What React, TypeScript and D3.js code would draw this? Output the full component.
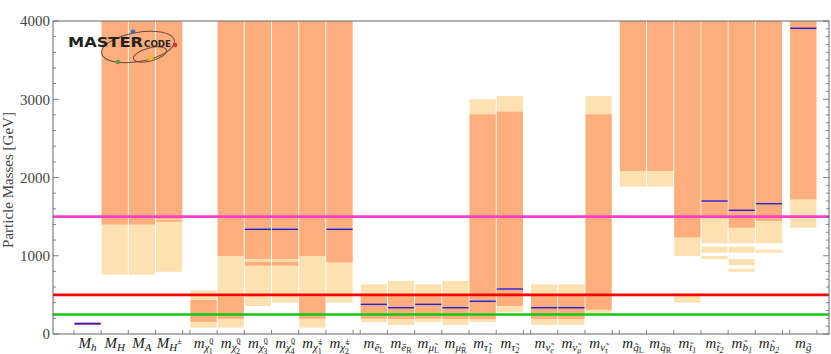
import { useEffect, useRef } from "react";
import * as d3 from "d3";

// columns (particles) and the group each one belongs to
const particles = [
  "Mh", "MH", "MA", "MHpm",
  "chi10", "chi20", "chi30", "chi40", "chi1pm", "chi2pm",
  "eL", "eR", "muL", "muR", "tau1", "tau2",
  "nue", "numu", "nutau",
  "qL", "qR", "t1", "t2", "b1", "b2",
  "gluino",
];
const groupIndex = [0, 0, 0, 0, 1, 1, 1, 1, 1, 1, 2, 2, 2, 2, 2, 2, 3, 3, 3, 4, 4, 4, 4, 4, 4, 5];

// axis labels, split into letter / subscript / superscript / sub-subscript
const labelMain = ["M", "M", "M", "M", "m", "m", "m", "m", "m", "m", "m", "m", "m", "m", "m", "m", "m", "m", "m", "m", "m", "m", "m", "m", "m", "m"];
const labelSub = [
  "h", "H", "A", "H",
  "\u03C7\u0303", "\u03C7\u0303", "\u03C7\u0303", "\u03C7\u0303", "\u03C7\u0303", "\u03C7\u0303",
  "e\u0303", "e\u0303", "\u03BC\u0303", "\u03BC\u0303", "\u03C4\u0303", "\u03C4\u0303",
  "\u03BD\u0303", "\u03BD\u0303", "\u03BD\u0303",
  "q\u0303", "q\u0303", "t\u0303", "t\u0303", "b\u0303", "b\u0303",
  "g\u0303",
];
const labelSup = ["", "", "", "\u00B1", "0", "0", "0", "0", "\u00B1", "\u00B1", "", "", "", "", "", "", "", "", "", "", "", "", "", "", "", ""];
const labelIdx = ["", "", "", "", "1", "2", "3", "4", "1", "2", "L", "R", "L", "R", "1", "2", "e", "\u03BC", "\u03C4", "L", "R", "1", "2", "1", "2", ""];

// 2 sigma ranges [GeV] (light)
const twoSigma = [
  [], [[758, 4000]], [[758, 4000]], [[795, 4000]],
  [[81, 553]], [[81, 997]], [[358, 4000]], [[400, 4000]], [[81, 997]], [[400, 4000]],
  [[153, 635]], [[115, 677]], [[153, 635]], [[115, 677]], [[153, 3000]], [[281, 3041]],
  [[115, 635]], [[115, 635]], [[264, 3041]],
  [[1883, 4000]], [[1883, 4000]], [[997, 4000], [400, 515]],
  [[1159, 4000], [1039, 1116], [958, 997]],
  [[1159, 4000], [1039, 1116], [878, 958], [796, 835]],
  [[1159, 4000], [1039, 1077]],
  [[1359, 4000]],
];

// 1 sigma ranges [GeV] (orange)
const oneSigma = [
  [], [[1400, 4000]], [[1400, 4000]], [[1470, 4000], [1435, 1458]],
  [[155, 435]], [[196, 477], [997, 4000]], [[958, 4000], [873, 924]], [[958, 4000], [873, 924]],
  [[196, 477], [997, 4000]], [[916, 4000]],
  [[196, 495]], [[192, 495]], [[196, 495]], [[192, 495]], [[188, 2807]], [[358, 2841]],
  [[192, 495]], [[192, 495]], [[311, 2807]],
  [[2083, 4000]], [[2083, 4000]], [[1236, 4000]], [[1478, 4000]], [[1359, 4000]], [[1444, 4000]],
  [[1721, 4000]],
];

// best fit points [GeV]
const bestFit = [
  132, null, null, null,
  null, null, 1338, 1338, null, 1338,
  379, 336, 379, 336, 418, 575,
  336, 336, null,
  null, null, null, 1700, 1581, 1665,
  3907,
];

const higgsBand = [118, 147];
const limitValues = [1500, 500, 250];
const limitColors = ["#ff3fc8", "#ff0000", "#10c810"];
const yTicks = [0, 1000, 2000, 3000, 4000];

const W = 831;
const H = 354;
const margin = { left: 53, right: 2, top: 21, bottom: 20 };
const gapUnits = 0.263;

const App = () => {
  const ref = useRef(null);

  useEffect(() => {
    const root = d3.select(ref.current);
    root.selectAll("*").remove();

    const svg = root
      .append("svg")
      .attr("width", W)
      .attr("height", H)
      .style("position", "absolute")
      .style("left", 0)
      .style("top", 0)
      .style("background", "#fff");

    const colU = particles.map((_, i) => i + groupIndex[i] * gapUnits);
    const x = d3.scaleLinear().domain([-0.77, 27.76]).range([margin.left, W - margin.right]);
    const y = d3.scaleLinear().domain([0, 4000]).range([H - margin.bottom, margin.top]);

    const segs = (bands) =>
      bands.flatMap((list, i) => list.map(([lo, hi]) => ({ i, lo, hi })));

    const drawBands = (bands, color) => {
      svg
        .append("g")
        .selectAll("rect")
        .data(segs(bands))
        .enter()
        .append("rect")
        .attr("x", (d) => x(colU[d.i]) + 0.5)
        .attr("width", (d) => x(colU[d.i] + 1) - x(colU[d.i]) - 1)
        .attr("y", (d) => y(d.hi))
        .attr("height", (d) => y(d.lo) - y(d.hi))
        .attr("fill", color);
    };
    drawBands(twoSigma, "#fee1b0");
    drawBands(oneSigma, "#fdae7c");

    // Higgs mass marker
    svg
      .append("rect")
      .attr("x", x(colU[0]) + 0.5)
      .attr("width", x(colU[0] + 1) - x(colU[0]) - 1)
      .attr("y", y(higgsBand[1]))
      .attr("height", y(higgsBand[0]) - y(higgsBand[1]))
      .attr("fill", "#e0404a");

    svg
      .append("g")
      .selectAll("line")
      .data(bestFit.map((v, i) => ({ v, i })).filter((d) => d.v !== null))
      .enter()
      .append("line")
      .attr("x1", (d) => x(colU[d.i]) + 0.5)
      .attr("x2", (d) => x(colU[d.i] + 1) - 0.5)
      .attr("y1", (d) => y(d.v))
      .attr("y2", (d) => y(d.v))
      .attr("stroke", "#2222dd")
      .attr("stroke-width", 1.4);

    // limit lines
    svg
      .append("g")
      .selectAll("line")
      .data(limitValues)
      .enter()
      .append("line")
      .attr("x1", margin.left)
      .attr("x2", W - margin.right)
      .attr("y1", (d) => y(d))
      .attr("y2", (d) => y(d))
      .attr("stroke", (d, i) => limitColors[i])
      .attr("stroke-width", 2.6);

    // frame
    const axisColor = "#666";
    svg
      .append("rect")
      .attr("x", margin.left)
      .attr("y", margin.top)
      .attr("width", W - margin.left - margin.right)
      .attr("height", H - margin.top - margin.bottom)
      .attr("fill", "none")
      .attr("stroke", axisColor)
      .attr("stroke-width", 1);

    const ticks = svg.append("g").attr("stroke", axisColor).attr("stroke-width", 0.8);
    d3.range(0, 4001, 200).forEach((v) => {
      const major = v % 1000 === 0;
      ticks
        .append("line")
        .attr("x1", margin.left)
        .attr("x2", margin.left + (major ? 6 : 3))
        .attr("y1", y(v))
        .attr("y2", y(v));
    });
    d3.range(0, 4001, 100).forEach((v) => {
      const major = v % 1000 === 0;
      ticks
        .append("line")
        .attr("x1", W - margin.right)
        .attr("x2", W - margin.right - (major ? 6 : 3))
        .attr("y1", y(v))
        .attr("y2", y(v));
    });
    const xTickU = Array.from(new Set(colU.flatMap((u) => [u, u + 1].map((t) => +t.toFixed(3)))));
    xTickU.forEach((u) => {
      ticks
        .append("line")
        .attr("x1", x(u))
        .attr("x2", x(u))
        .attr("y1", y(0))
        .attr("y2", y(0) - 4);
    });

    svg
      .append("g")
      .selectAll("text")
      .data(yTicks)
      .enter()
      .append("text")
      .attr("x", margin.left - 3)
      .attr("y", (d) => y(d))
      .attr("dy", "0.35em")
      .attr("text-anchor", "end")
      .attr("font-family", "Liberation Serif")
      .attr("font-size", 15)
      .attr("fill", "#444")
      .text((d) => d);

    svg
      .append("text")
      .attr("transform", "translate(13,180) rotate(-90)")
      .attr("text-anchor", "middle")
      .attr("font-family", "Liberation Serif")
      .attr("font-size", 15)
      .attr("fill", "#444")
      .text("Particle Masses [GeV]");

    // x labels
    particles.forEach((_, i) => {
      const cx = x(colU[i] + 0.5);
      const t = svg
        .append("text")
        .attr("x", cx)
        .attr("y", 347.5)
        .attr("text-anchor", "middle")
        .attr("font-family", "Liberation Serif")
        .attr("fill", "#222");
      t.append("tspan").attr("font-style", "italic").attr("font-size", 15).text(labelMain[i]);
      t.append("tspan").attr("font-style", "italic").attr("font-size", 11).attr("dy", 3).text(labelSub[i]);
      if (labelSup[i]) {
        t.append("tspan").attr("font-size", 8).attr("dy", -6.5).text(labelSup[i]);
        if (labelIdx[i]) {
          t.append("tspan").attr("font-size", 8).attr("dx", -4.5).attr("dy", 9.5).text(labelIdx[i]);
        }
      } else if (labelIdx[i]) {
        const upright = labelIdx[i] === "L" || labelIdx[i] === "R";
        t.append("tspan")
          .attr("font-size", 8)
          .attr("font-style", upright ? "normal" : "italic")
          .attr("dy", 2)
          .text(labelIdx[i]);
      }
    });

    // MasterCode logo
    const logo = svg.append("g");
    logo
      .append("ellipse")
      .attr("cx", 138)
      .attr("cy", 47)
      .attr("rx", 37)
      .attr("ry", 14.5)
      .attr("transform", "rotate(-10,138,47)")
      .attr("fill", "none")
      .attr("stroke", "#6b4a3a")
      .attr("stroke-width", 1);
    logo
      .append("ellipse")
      .attr("cx", 150)
      .attr("cy", 54.5)
      .attr("rx", 17)
      .attr("ry", 6.5)
      .attr("transform", "rotate(-15,150,54.5)")
      .attr("fill", "none")
      .attr("stroke", "#6b4a3a")
      .attr("stroke-width", 1);
    logo
      .append("text")
      .attr("x", 68)
      .attr("y", 46.5)
      .attr("font-family", "DejaVu Sans")
      .attr("font-weight", "bold")
      .attr("font-size", 14)
      .attr("textLength", 75)
      .attr("lengthAdjust", "spacingAndGlyphs")
      .attr("fill", "#222")
      .text("MASTER");
    logo
      .append("text")
      .attr("x", 144)
      .attr("y", 46.5)
      .attr("font-family", "DejaVu Sans")
      .attr("font-weight", "bold")
      .attr("font-size", 8)
      .attr("textLength", 27)
      .attr("lengthAdjust", "spacingAndGlyphs")
      .attr("fill", "#222")
      .text("CODE");
    [
      [133, 31.7, "#3a6fb8"],
      [175, 45, "#d83030"],
      [118, 62, "#5aa040"],
      [150.5, 58.3, "#f0c020"],
    ].forEach(([cx, cy, c]) => {
      logo.append("circle").attr("cx", cx).attr("cy", cy).attr("r", 2.3).attr("fill", c);
    });
  }, []);

  return <div ref={ref}></div>;
};

export default App;
